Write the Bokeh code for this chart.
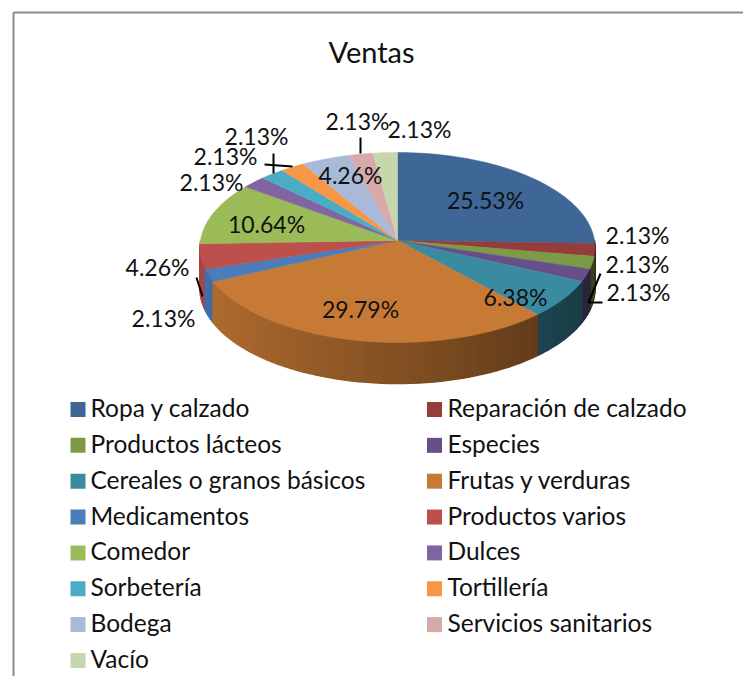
import math
from bokeh.plotting import figure
from bokeh.models import Range1d
from bokeh.core.properties import value
from bokeh.embed import file_html
from bokeh.resources import INLINE

title = "Ventas"
categories = ["Ropa y calzado", "Reparación de calzado", "Productos lácteos", "Especies",
              "Cereales o granos básicos", "Frutas y verduras", "Medicamentos", "Productos varios",
              "Comedor", "Dulces", "Sorbetería", "Tortillería", "Bodega", "Servicios sanitarios", "Vacío"]
percentages = [25.53, 2.13, 2.13, 2.13, 6.38, 29.79, 2.13, 4.26, 10.64, 2.13, 2.13, 2.13, 4.26, 2.13, 2.13]
colors = ["#3E6797", "#953D3B", "#7D9A47", "#67508A", "#3A8AA0", "#C77A35", "#4B7DBB", "#BD4F4C",
          "#9BBB59", "#8065A2", "#4BACC6", "#F79646", "#A9BAD9", "#D8A9A9", "#C6D6AD"]

FONT = "Lato"
CX, CY, R, RY, K, DEPTH = 397, 240, 197, 94.5, 0.0737, 41
label_pos = [(485, 199), (637, 234), (637, 263), (638, 291), (515, 296), (360, 308), (163, 317), (157, 266),
             (266, 223), (211, 181), (225, 155), (256, 135), (350, 174), (357, 120), (419, 128)]
leaders = [([196, 202], [277, 296]), ([600, 588, 602], [273, 302, 302]), ([264, 292], [164, 166]),
           ([273, 273], [153, 173]), ([360, 360], [137, 153])]


def project(theta, drop=0.0):
    u, v = math.sin(theta), -math.cos(theta)
    s = 1 / (1 - K * v)
    return CX + R * u * s, CY + RY * v * s + drop


def shade(hex_color, theta):
    u = math.sin(theta)
    f = max(0.40, 0.66 - 0.24 * u) if u > 0 else 0.66 - 0.24 * u
    r, g, b = (int(hex_color[i:i + 2], 16) for i in (1, 3, 5))
    return "#%02x%02x%02x" % (int(r * f), int(g * f), int(b * f))


total = sum(percentages)
edges = [0.0]
for pct in percentages:
    edges.append(edges[-1] + pct / total * 2 * math.pi)

side_x, side_y, side_c, side_key = [], [], [], []
top_x, top_y = [], []
STEP = math.radians(2.0)
for i, col in enumerate(colors):
    a0, a1 = edges[i], edges[i + 1]
    n = max(2, int((a1 - a0) / STEP))
    angles = [a0 + (a1 - a0) * j / n for j in range(n + 1)]
    pts = [project(a) for a in angles]
    top_x.append([CX] + [q[0] for q in pts])
    top_y.append([CY] + [q[1] for q in pts])
    for t0, t1 in zip(angles[:-1], angles[1:]):
        mid = (t0 + t1) / 2
        if -math.cos(mid) < -0.01:
            continue
        x0, y0 = project(t0)
        x1, y1 = project(t1)
        xb1, yb1 = project(t1, DEPTH)
        xb0, yb0 = project(t0, DEPTH)
        side_x.append([x0, x1, xb1, xb0])
        side_y.append([y0, y1, yb1, yb0])
        side_c.append(shade(col, mid))
        side_key.append(-math.cos(mid))

order = sorted(range(len(side_key)), key=lambda k: side_key[k])

p = figure(width=743, height=676, output_backend="svg", toolbar_location=None,
           x_range=Range1d(0, 743), y_range=Range1d(676, 0), min_border=0,
           x_axis_location=None, y_axis_location=None, outline_line_color=None,
           margin=(0, -8, -8, 0))
p.xgrid.visible = False
p.ygrid.visible = False
p.background_fill_color = "white"

# chart frame
p.line([13, 13], [676, 12], line_color="#8C8C8C", line_width=2)
p.line([13, 743], [12, 12], line_color="#8C8C8C", line_width=2)

p.patches([side_x[k] for k in order], [side_y[k] for k in order],
          fill_color=[side_c[k] for k in order], line_color=[side_c[k] for k in order], line_width=1.5)
p.patches(top_x, top_y, fill_color=colors, line_color=colors, line_width=0.5)

for xs, ys in leaders:
    p.line(xs, ys, line_color="black", line_width=2)

p.text([371], [51], text=[title], text_font=value(FONT), text_font_size="29px",
       text_color="#111111", text_align="center", text_baseline="middle")
p.text([q[0] for q in label_pos], [q[1] for q in label_pos], text=[f"{v:.2f}%" for v in percentages],
       text_font=value(FONT), text_font_size="23px", text_color="#111111",
       text_align="center", text_baseline="middle")

rows = [409 + 35.85 * (i // 2) for i in range(len(categories))]
swatch_x = [77.5 if i % 2 == 0 else 434 for i in range(len(categories))]
text_x = [90 if i % 2 == 0 else 447 for i in range(len(categories))]
p.scatter(swatch_x, rows, marker="square", size=15, fill_color=colors, line_color=None)
p.text(text_x, [r - 2 for r in rows], text=categories, text_font=value(FONT), text_font_size="24.5px",
       text_color="#111111", text_align="left", text_baseline="middle")

open("out.html", "w").write(file_html(p, INLINE))
